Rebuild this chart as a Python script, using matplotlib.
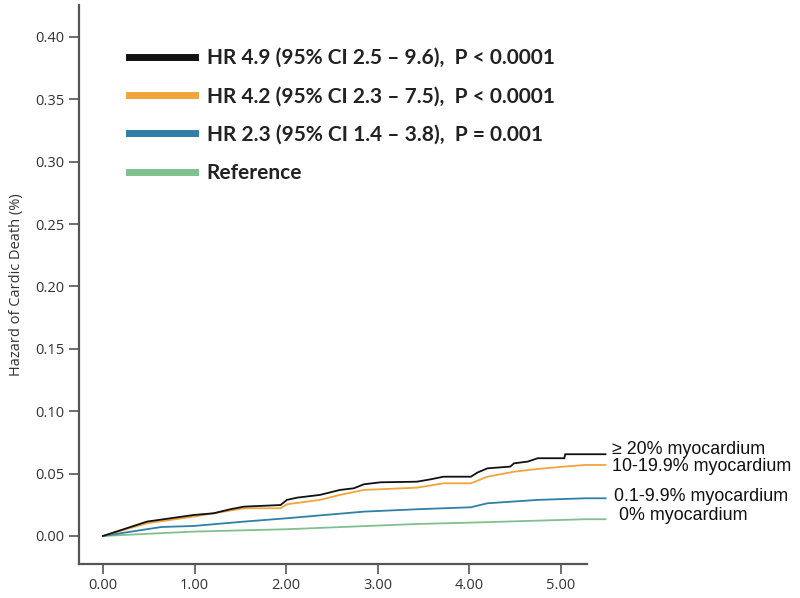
import matplotlib
matplotlib.use("Agg")
import matplotlib.pyplot as plt
from matplotlib.lines import Line2D

# ---- data ----
t_black = [0, 0.48, 0.99, 1.21, 1.39, 1.54, 1.94, 2.01, 2.12, 2.37, 2.59, 2.74, 2.85, 3.03,
           3.43, 3.58, 3.72, 4.02, 4.09, 4.20, 4.45, 4.49, 4.64, 4.75, 5.04, 5.05, 5.49]
h_black = [0, 0.0115, 0.0168, 0.0182, 0.0214, 0.0235, 0.0248, 0.0289, 0.0307, 0.0329, 0.0369,
           0.0382, 0.0414, 0.0430, 0.0435, 0.0454, 0.0475, 0.0475, 0.0508, 0.0542, 0.0556,
           0.0582, 0.0596, 0.0623, 0.0623, 0.0655, 0.0655]

t_orange = [0, 0.48, 0.99, 1.54, 1.94, 2.01, 2.37, 2.59, 2.85, 3.43, 3.72, 4.02, 4.20, 4.49,
            4.75, 5.04, 5.27, 5.49]
h_orange = [0, 0.0102, 0.0155, 0.0222, 0.0222, 0.0254, 0.0289, 0.0329, 0.0369, 0.0387, 0.0422,
            0.0422, 0.0475, 0.0515, 0.0537, 0.0556, 0.0569, 0.0569]

t_blue = [0, 0.64, 0.99, 1.54, 2.01, 2.85, 3.43, 4.02, 4.20, 4.75, 5.27, 5.49]
h_blue = [0, 0.0072, 0.0080, 0.0115, 0.0142, 0.0195, 0.0214, 0.0230, 0.0262, 0.0289, 0.0302, 0.0302]

t_green = [0, 0.99, 2.01, 3.43, 4.02, 5.27, 5.49]
h_green = [0, 0.0035, 0.0054, 0.0096, 0.0107, 0.0134, 0.0134]

legend_labels = ["HR 4.9 (95% CI 2.5 \u2013 9.6),  P < 0.0001",
                 "HR 4.2 (95% CI 2.3 \u2013 7.5),  P < 0.0001",
                 "HR 2.3 (95% CI 1.4 \u2013 3.8),  P = 0.001",
                 "Reference"]
group_labels = ["\u2265 20% myocardium", "10-19.9% myocardium",
                "0.1-9.9% myocardium", "0% myocardium"]
group_label_pos = [(5.56, 0.0689), (5.56, 0.0553), (5.58, 0.0313), (5.64, 0.0168)]

x_ticks = [0, 1, 2, 3, 4, 5]
x_ticklabels = ["0.00", "1.00", "2.00", "3.00", "4.00", "5.00"]
y_ticks = [0.00, 0.05, 0.10, 0.15, 0.20, 0.25, 0.30, 0.35, 0.40]
y_ticklabels = ["0.00", "0.05", "0.10", "0.15", "0.20", "0.25", "0.30", "0.35", "0.40"]

colors = ["#111111", "#F2A43A", "#2F7FA6", "#80C08E"]

# ---- figure ----
fig = plt.figure(figsize=(8.0, 5.98), dpi=100)
ax = fig.add_axes([0.099, 0.057, 0.635, 0.935])

series = [(t_black, h_black), (t_orange, h_orange), (t_blue, h_blue), (t_green, h_green)]
for (t, h), c in reversed(list(zip(series, colors))):
    ax.plot(t, h, color=c, lw=1.3, clip_on=False, solid_joinstyle="miter")

ax.set_xlim(-0.26, 5.29)
ax.set_ylim(-0.0224, 0.4257)

for sp in ["top", "right"]:
    ax.spines[sp].set_visible(False)
for sp in ["left", "bottom"]:
    ax.spines[sp].set_color("#555555")
    ax.spines[sp].set_linewidth(1.6)

ax.set_xticks(x_ticks)
ax.set_xticklabels(x_ticklabels)
ax.set_yticks(y_ticks)
ax.set_yticklabels(y_ticklabels)
ax.tick_params(axis="both", direction="out", length=7, width=1.2, color="#555555",
               labelsize=10.5, labelcolor="#333333")
for lab in ax.get_xticklabels() + ax.get_yticklabels():
    lab.set_fontfamily("Open Sans")

ax.set_ylabel("Hazard of Cardic Death (%)", fontsize=10.5, color="#333333",
              family="Open Sans", labelpad=8)

handles = [Line2D([0], [0], color=c, lw=5) for c in colors]
leg = ax.legend(handles, legend_labels, loc="upper left", bbox_to_anchor=(0.061, 0.956),
                frameon=False, handlelength=3.15, handletextpad=0.58, labelspacing=0.875,
                prop={"family": "Lato", "weight": "bold", "size": 15})
for txt in leg.get_texts():
    txt.set_color("#222222")

for lab, (x, y) in zip(group_labels, group_label_pos):
    ax.text(x, y, lab, fontsize=12.9, family="Liberation Sans", color="#111111",
            va="center", ha="left", clip_on=False)

fig.savefig("out.png", dpi=100, facecolor="white")
